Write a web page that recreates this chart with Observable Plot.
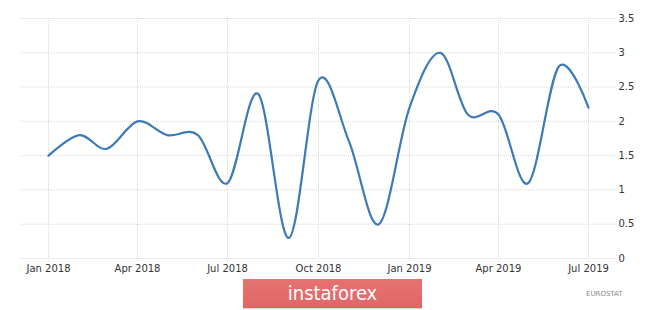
<!DOCTYPE html>
<html>
<head>
<meta charset="utf-8">
<script src="https://cdn.jsdelivr.net/npm/d3@7"></script>
<script src="https://cdn.jsdelivr.net/npm/@observablehq/plot@0.6"></script>
<style>
  html, body { margin: 0; padding: 0; background: #fff; }
  #wrap { position: relative; width: 665px; height: 310px; overflow: hidden; }
  #logo {
    position: absolute; left: 243px; top: 279px; width: 179px; height: 29px;
    background: linear-gradient(#e77272, #e06666);
    box-shadow: 0 1px 1px rgba(0,0,0,0.15);
    color: #fff; font-family: "Liberation Sans Narrow", "DejaVu Sans Condensed", sans-serif;
    font-size: 20px; line-height: 29px; text-align: center;
  }
  #source {
    position: absolute; left: 586px; top: 290px;
    font-family: "DejaVu Sans", sans-serif; font-size: 7px; color: #8a8a8a;
  }
</style>
</head>
<body>
<div id="wrap">
  <div id="chart"></div>
  <div id="logo">instaforex</div>
  <div id="source">EUROSTAT</div>
</div>
<script>
// Monthly values, Jan 2018 – Jul 2019
const months = ["2018-01","2018-02","2018-03","2018-04","2018-05","2018-06","2018-07","2018-08","2018-09","2018-10","2018-11","2018-12","2019-01","2019-02","2019-03","2019-04","2019-05","2019-06","2019-07"];
const values = [1.5, 1.8, 1.6, 2.0, 1.8, 1.8, 1.1, 2.4, 0.3, 2.6, 1.7, 0.5, 2.2, 3.0, 2.1, 2.1, 1.1, 2.8, 2.2];
const xTicks = ["2018-01","2018-04","2018-07","2018-10","2019-01","2019-04","2019-07"];
const yTicks = [0, 0.5, 1, 1.5, 2, 2.5, 3, 3.5];

const parse = d3.utcParse("%Y-%m");
const data = months.map((m, i) => ({date: parse(m), value: values[i]}));
const xTickDates = xTicks.map(parse);

const grid = "#d8d8d8";
const chart = Plot.plot({
  width: 665,
  height: 310,
  marginLeft: 48,
  marginRight: 77,
  marginTop: 18,
  marginBottom: 52,
  style: {fontFamily: "DejaVu Sans, sans-serif", fontSize: "10px", color: "#333", background: "transparent"},
  x: {type: "utc", domain: [parse(months[0]), parse(months[months.length - 1])]},
  y: {domain: [0, 3.5]},
  marks: [
    Plot.ruleY(yTicks, {stroke: grid, strokeDasharray: "1,1", insetLeft: -28, insetRight: -27}),
    Plot.ruleX(xTickDates, {stroke: grid, strokeDasharray: "1,1", insetBottom: -4}),
    Plot.axisX(xTickDates, {tickSize: 0, tickPadding: 6, tickFormat: d3.utcFormat("%b %Y"), fill: "#333", label: null}),
    Plot.axisY(yTicks, {anchor: "right", tickSize: 0, tickPadding: 30, tickFormat: d => String(d), fill: "#333", textAnchor: "start", label: null}),
    Plot.line(data, {x: "date", y: "value", stroke: "#3d7ab6", strokeWidth: 2.2, curve: "cardinal"})
  ]
});
document.getElementById("chart").appendChild(chart);
</script>
</body>
</html>
